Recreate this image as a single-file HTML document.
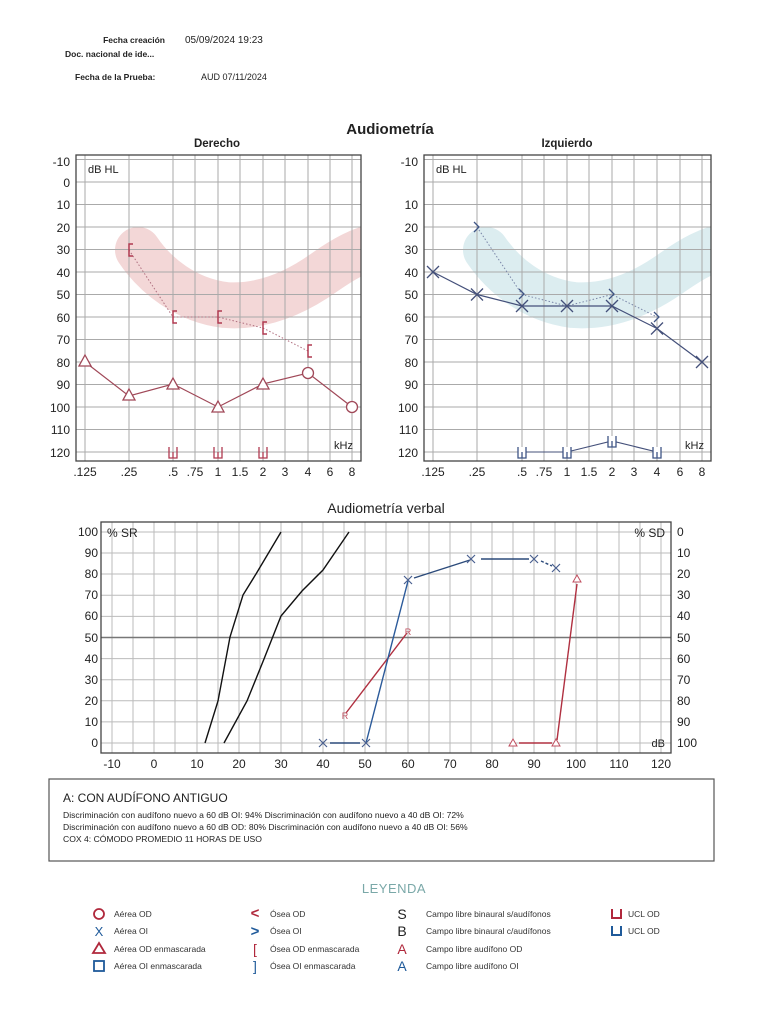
<!DOCTYPE html>
<html><head><meta charset="utf-8"><style>
body{margin:0;background:#fff;}
svg{display:block;font-family:"Liberation Sans",sans-serif;}
</style></head><body>
<svg width="773" height="1024" viewBox="0 0 773 1024" xmlns="http://www.w3.org/2000/svg">
<defs>
<clipPath id="cl"><rect x="76" y="155" width="285" height="306"/></clipPath>
<clipPath id="cr"><rect x="76" y="155" width="287" height="306"/></clipPath>
</defs>
<!-- header -->
<g font-size="9" fill="#222">
<text x="165" y="43" text-anchor="end" font-weight="bold" font-size="8.5">Fecha creación</text>
<text x="185" y="43" font-size="10">05/09/2024  19:23</text>
<text x="65" y="57" font-weight="bold" font-size="8.5">Doc. nacional de ide...</text>
<text x="75" y="80" font-weight="bold" font-size="8.5">Fecha de la Prueba:</text>
<text x="201" y="80" font-size="9">AUD 07/11/2024</text>
</g>
<text x="390" y="134" text-anchor="middle" font-size="15" font-weight="bold" fill="#222">Audiometría</text>
<text x="217" y="147" text-anchor="middle" font-size="11.5" font-weight="bold" fill="#222">Derecho</text>
<text x="567" y="147" text-anchor="middle" font-size="11.5" font-weight="bold" fill="#222">Izquierdo</text>

<!-- LEFT chart -->
<g id="left">
<path clip-path="url(#cl)" d="M138,250 C155,275 185,300 225,305 C265,308 300,290 325,272 C345,258 360,250 380,245" fill="none" stroke="#f3d7d7" stroke-width="46" stroke-linecap="round"/>
<g stroke="#aaa" stroke-width="1">
<line x1="76" x2="361" y1="159.5" y2="159.5"/><line x1="76" x2="361" y1="182" y2="182"/><line x1="76" x2="361" y1="204.5" y2="204.5"/><line x1="76" x2="361" y1="227" y2="227"/><line x1="76" x2="361" y1="249.5" y2="249.5"/><line x1="76" x2="361" y1="272" y2="272"/><line x1="76" x2="361" y1="294.5" y2="294.5"/><line x1="76" x2="361" y1="317" y2="317"/><line x1="76" x2="361" y1="339.5" y2="339.5"/><line x1="76" x2="361" y1="362" y2="362"/><line x1="76" x2="361" y1="384.5" y2="384.5"/><line x1="76" x2="361" y1="407" y2="407"/><line x1="76" x2="361" y1="429.5" y2="429.5"/><line x1="76" x2="361" y1="452" y2="452"/>
<line y1="155" y2="461" x1="85" x2="85"/><line y1="155" y2="461" x1="129" x2="129"/><line y1="155" y2="461" x1="173" x2="173"/><line y1="155" y2="461" x1="195" x2="195"/><line y1="155" y2="461" x1="218" x2="218"/><line y1="155" y2="461" x1="240" x2="240"/><line y1="155" y2="461" x1="263" x2="263"/><line y1="155" y2="461" x1="285" x2="285"/><line y1="155" y2="461" x1="308" x2="308"/><line y1="155" y2="461" x1="330" x2="330"/><line y1="155" y2="461" x1="352" x2="352"/>
</g>
<rect x="76" y="155" width="285" height="306" fill="none" stroke="#444" stroke-width="1.3"/>
<text x="88" y="173" font-size="11" fill="#222">dB HL</text>
<text x="334" y="449" font-size="11" fill="#222">kHz</text>
<polyline points="129,250 173,317 218,317 263,328 308,351" fill="none" stroke="#b07080" stroke-width="1" stroke-dasharray="1.5,2"/>
<g fill="none" stroke="#b03a50" stroke-width="1.5">
<path d="M133,244 h-4 v12 h4"/><path d="M177,311 h-4 v12 h4"/><path d="M222,311 h-4 v12 h4"/><path d="M267,322 h-4 v12 h4"/><path d="M312,345 h-4 v12 h4"/>
</g>
<polyline points="85,362 129,396 173,384 218,407 263,384 308,373 352,407" fill="none" stroke="#a04858" stroke-width="1.2"/>
<g fill="#fff" stroke="#a04858" stroke-width="1.3">
<path d="M85,355 l6,11 h-12 z"/><path d="M129,389 l6,11 h-12 z"/><path d="M173,378 l6,11 h-12 z"/><path d="M218,401 l6,11 h-12 z"/><path d="M263,378 l6,11 h-12 z"/>
<circle cx="308" cy="373" r="5.5"/><circle cx="352" cy="407" r="5.5"/>
</g>
<g fill="none" stroke="#b03a50" stroke-width="1.3">
<path d="M169,447 v11 h8 v-11 M173,452 v6"/><path d="M214,447 v11 h8 v-11 M218,452 v6"/><path d="M259,447 v11 h8 v-11 M263,452 v6"/>
</g>
<g font-size="12" fill="#222" text-anchor="end">
<text x="70" y="166">-10</text><text x="70" y="187">0</text><text x="70" y="209">10</text><text x="70" y="232">20</text><text x="70" y="254">30</text><text x="70" y="277">40</text><text x="70" y="299">50</text><text x="70" y="322">60</text><text x="70" y="344">70</text><text x="70" y="367">80</text><text x="70" y="389">90</text><text x="70" y="412">100</text><text x="70" y="434">110</text><text x="70" y="457">120</text>
</g>
<g font-size="12" fill="#222" text-anchor="middle">
<text x="85" y="476">.125</text><text x="129" y="476">.25</text><text x="173" y="476">.5</text><text x="195" y="476">.75</text><text x="218" y="476">1</text><text x="240" y="476">1.5</text><text x="263" y="476">2</text><text x="285" y="476">3</text><text x="308" y="476">4</text><text x="330" y="476">6</text><text x="352" y="476">8</text>
</g>
</g>

<!-- RIGHT chart -->
<g transform="translate(348,0)">
<path clip-path="url(#cr)" d="M138,250 C155,275 185,300 225,305 C265,308 300,290 325,272 C345,258 360,250 380,245" fill="none" stroke="#dcedf0" stroke-width="46" stroke-linecap="round"/>
<g stroke="#aaa" stroke-width="1">
<line x1="76" x2="363" y1="159.5" y2="159.5"/><line x1="76" x2="363" y1="182" y2="182"/><line x1="76" x2="363" y1="204.5" y2="204.5"/><line x1="76" x2="363" y1="227" y2="227"/><line x1="76" x2="363" y1="249.5" y2="249.5"/><line x1="76" x2="363" y1="272" y2="272"/><line x1="76" x2="363" y1="294.5" y2="294.5"/><line x1="76" x2="363" y1="317" y2="317"/><line x1="76" x2="363" y1="339.5" y2="339.5"/><line x1="76" x2="363" y1="362" y2="362"/><line x1="76" x2="363" y1="384.5" y2="384.5"/><line x1="76" x2="363" y1="407" y2="407"/><line x1="76" x2="363" y1="429.5" y2="429.5"/><line x1="76" x2="363" y1="452" y2="452"/>
<line y1="155" y2="461" x1="85" x2="85"/><line y1="155" y2="461" x1="129" x2="129"/><line y1="155" y2="461" x1="174" x2="174"/><line y1="155" y2="461" x1="196" x2="196"/><line y1="155" y2="461" x1="219" x2="219"/><line y1="155" y2="461" x1="241" x2="241"/><line y1="155" y2="461" x1="264" x2="264"/><line y1="155" y2="461" x1="286" x2="286"/><line y1="155" y2="461" x1="309" x2="309"/><line y1="155" y2="461" x1="332" x2="332"/><line y1="155" y2="461" x1="354" x2="354"/>
</g>
<rect x="76" y="155" width="287" height="306" fill="none" stroke="#444" stroke-width="1.3"/>
<text x="88" y="173" font-size="11" fill="#222">dB HL</text>
<text x="337" y="449" font-size="11" fill="#222">kHz</text>
<polyline points="129,227 174,294.5 219,306 264,294.5 309,317" fill="none" stroke="#7a86a8" stroke-width="1" stroke-dasharray="1.5,2"/>
<g fill="none" stroke="#3f5585" stroke-width="1.3">
<path d="M126,222 l5,5 l-5,5"/><path d="M171,289 l5,5 l-5,5"/><path d="M261,289 l5,5 l-5,5"/><path d="M306,312 l5,5 l-5,5"/>
</g>
<polyline points="85,272 129,294.5 174,306 219,306 264,306 309,328.5 354,362" fill="none" stroke="#44507a" stroke-width="1.2"/>
<g stroke="#44507a" stroke-width="1.3">
<path d="M79,266 l12,12 M91,266 l-12,12"/><path d="M123,288.5 l12,12 M135,288.5 l-12,12"/><path d="M168,300 l12,12 M180,300 l-12,12"/><path d="M213,300 l12,12 M225,300 l-12,12"/><path d="M258,300 l12,12 M270,300 l-12,12"/><path d="M303,322.5 l12,12 M315,322.5 l-12,12"/><path d="M348,356 l12,12 M360,356 l-12,12"/>
</g>
<polyline points="174,452 219,452 264,441 309,452" fill="none" stroke="#44507a" stroke-width="1.1"/>
<g fill="#fff" stroke="#3f5585" stroke-width="1.3">
<path d="M170,447 v11 h8 v-11 M174,452 v6"/><path d="M215,447 v11 h8 v-11 M219,452 v6"/><path d="M260,436 v11 h8 v-11 M264,441 v6"/><path d="M305,447 v11 h8 v-11 M309,452 v6"/>
</g>
<g font-size="12" fill="#222" text-anchor="end">
<text x="70" y="166">-10</text><text x="70" y="209">10</text><text x="70" y="232">20</text><text x="70" y="254">30</text><text x="70" y="277">40</text><text x="70" y="299">50</text><text x="70" y="322">60</text><text x="70" y="344">70</text><text x="70" y="367">80</text><text x="70" y="389">90</text><text x="70" y="412">100</text><text x="70" y="434">110</text><text x="70" y="457">120</text>
</g>
<g font-size="12" fill="#222" text-anchor="middle">
<text x="85" y="476">.125</text><text x="129" y="476">.25</text><text x="174" y="476">.5</text><text x="196" y="476">.75</text><text x="219" y="476">1</text><text x="241" y="476">1.5</text><text x="264" y="476">2</text><text x="286" y="476">3</text><text x="309" y="476">4</text><text x="332" y="476">6</text><text x="354" y="476">8</text>
</g>
</g>

<!-- VERBAL chart -->
<text x="386" y="513" text-anchor="middle" font-size="14" fill="#222">Audiometría verbal</text>
<g stroke="#bbb" stroke-width="1">
<line x1="112" x2="112" y1="522" y2="753"/><line x1="133" x2="133" y1="522" y2="753"/><line x1="154" x2="154" y1="522" y2="753"/><line x1="175" x2="175" y1="522" y2="753"/><line x1="197" x2="197" y1="522" y2="753"/><line x1="218" x2="218" y1="522" y2="753"/><line x1="239" x2="239" y1="522" y2="753"/><line x1="260" x2="260" y1="522" y2="753"/><line x1="281" x2="281" y1="522" y2="753"/><line x1="302" x2="302" y1="522" y2="753"/><line x1="323" x2="323" y1="522" y2="753"/><line x1="344" x2="344" y1="522" y2="753"/><line x1="365" x2="365" y1="522" y2="753"/><line x1="386" x2="386" y1="522" y2="753"/><line x1="408" x2="408" y1="522" y2="753"/><line x1="429" x2="429" y1="522" y2="753"/><line x1="450" x2="450" y1="522" y2="753"/><line x1="471" x2="471" y1="522" y2="753"/><line x1="492" x2="492" y1="522" y2="753"/><line x1="513" x2="513" y1="522" y2="753"/><line x1="534" x2="534" y1="522" y2="753"/><line x1="555" x2="555" y1="522" y2="753"/><line x1="576" x2="576" y1="522" y2="753"/><line x1="597" x2="597" y1="522" y2="753"/><line x1="619" x2="619" y1="522" y2="753"/><line x1="640" x2="640" y1="522" y2="753"/><line x1="661" x2="661" y1="522" y2="753"/>
<line x1="101" x2="671" y1="532" y2="532"/><line x1="101" x2="671" y1="553" y2="553"/><line x1="101" x2="671" y1="574" y2="574"/><line x1="101" x2="671" y1="595.3" y2="595.3"/><line x1="101" x2="671" y1="616.4" y2="616.4"/><line x1="101" x2="671" y1="658.6" y2="658.6"/><line x1="101" x2="671" y1="679.7" y2="679.7"/><line x1="101" x2="671" y1="700.8" y2="700.8"/><line x1="101" x2="671" y1="721.9" y2="721.9"/><line x1="101" x2="671" y1="743" y2="743"/>
</g>
<line x1="101" x2="671" y1="637.5" y2="637.5" stroke="#777" stroke-width="1.4"/>
<rect x="101" y="522" width="570" height="231" fill="none" stroke="#444" stroke-width="1.3"/>
<text x="107" y="537" font-size="12" fill="#222">% SR</text>
<text x="665" y="537" font-size="12" fill="#222" text-anchor="end">% SD</text>
<text x="665" y="747" font-size="11" fill="#222" text-anchor="end">dB</text>
<g fill="none" stroke="#111" stroke-width="1.4">
<polyline points="205,743 218,701 230,637 243,595 256,574 281,532"/>
<polyline points="224,743 247,701 264,659 281,616 302,591 323,570 349,532"/>
</g>
<line x1="346" y1="713" x2="407" y2="633" stroke="#b03040" stroke-width="1.4"/>
<g font-size="9"><text x="345" y="719" text-anchor="middle" fill="#c05060">R</text><text x="408" y="635" text-anchor="middle" fill="#c05060">R</text></g>
<line x1="330" y1="743" x2="360" y2="743" stroke="#2b4a7a" stroke-width="1.4"/>
<polyline points="366,743 408,581" fill="none" stroke="#2b5a9a" stroke-width="1.4"/>
<polyline points="414,578 470,560" fill="none" stroke="#2b4a7a" stroke-width="1.4"/>
<line x1="481" y1="559" x2="529" y2="559" stroke="#2b4a7a" stroke-width="1.4"/>
<line x1="541" y1="561" x2="552" y2="566" stroke="#2b4a7a" stroke-width="1.4" stroke-dasharray="3,2"/>
<g stroke="#4a6090" stroke-width="1.2">
<path d="M319,739 l8,8 M327,739 l-8,8"/><path d="M362,739 l8,8 M370,739 l-8,8"/><path d="M404,576 l8,8 M412,576 l-8,8"/><path d="M467,555 l8,8 M475,555 l-8,8"/><path d="M530,555 l8,8 M538,555 l-8,8"/><path d="M552,564 l8,8 M560,564 l-8,8"/>
</g>
<line x1="519" y1="743" x2="552" y2="743" stroke="#b03040" stroke-width="1.4"/>
<line x1="557" y1="740" x2="577" y2="584" stroke="#b03040" stroke-width="1.4"/>
<g fill="#fff" stroke="#c05060" stroke-width="1">
<path d="M513,739 l4,7 h-8 z"/><path d="M556,739 l4,7 h-8 z"/><path d="M577,575 l4,7 h-8 z"/>
</g>
<g font-size="12" fill="#222" text-anchor="end">
<text x="98" y="536">100</text><text x="98" y="557">90</text><text x="98" y="578">80</text><text x="98" y="599">70</text><text x="98" y="620">60</text><text x="98" y="642">50</text><text x="98" y="663">40</text><text x="98" y="684">30</text><text x="98" y="705">20</text><text x="98" y="726">10</text><text x="98" y="747">0</text>
</g>
<g font-size="12" fill="#222">
<text x="677" y="536">0</text><text x="677" y="557">10</text><text x="677" y="578">20</text><text x="677" y="599">30</text><text x="677" y="620">40</text><text x="677" y="642">50</text><text x="677" y="663">60</text><text x="677" y="684">70</text><text x="677" y="705">80</text><text x="677" y="726">90</text><text x="677" y="747">100</text>
</g>
<g font-size="12" fill="#222" text-anchor="middle">
<text x="112" y="768">-10</text><text x="154" y="768">0</text><text x="197" y="768">10</text><text x="239" y="768">20</text><text x="281" y="768">30</text><text x="323" y="768">40</text><text x="365" y="768">50</text><text x="408" y="768">60</text><text x="450" y="768">70</text><text x="492" y="768">80</text><text x="534" y="768">90</text><text x="576" y="768">100</text><text x="619" y="768">110</text><text x="661" y="768">120</text>
</g>

<!-- notes box -->
<rect x="49" y="779" width="665" height="82" fill="none" stroke="#555" stroke-width="1.2"/>
<text x="63" y="802" font-size="12" fill="#222">A: CON AUDÍFONO ANTIGUO</text>
<g font-size="8.6" fill="#222">
<text x="63" y="818">Discriminación con audífono nuevo a 60 dB OI: 94% Discriminación con audífono nuevo a 40 dB OI: 72%</text>
<text x="63" y="830">Discriminación con audífono nuevo a 60 dB OD: 80% Discriminación con audífono nuevo a 40 dB OI: 56%</text>
<text x="63" y="842">COX 4: CÓMODO    PROMEDIO 11 HORAS DE USO</text>
</g>

<!-- legend -->
<text x="394" y="893" text-anchor="middle" font-size="13" fill="#7aa8a8" letter-spacing="0.5">LEYENDA</text>
<g font-size="8.5" fill="#333">
<text x="114" y="917">Aérea OD</text><text x="114" y="934">Aérea OI</text><text x="114" y="952">Aérea OD enmascarada</text><text x="114" y="969">Aérea OI enmascarada</text>
<text x="270" y="917">Ósea OD</text><text x="270" y="934">Ósea OI</text><text x="270" y="952">Ósea OD enmascarada</text><text x="270" y="969">Ósea OI enmascarada</text>
<text x="426" y="917">Campo libre binaural s/audífonos</text><text x="426" y="934">Campo libre binaural c/audífonos</text><text x="426" y="952">Campo libre audífono OD</text><text x="426" y="969">Campo libre audífono OI</text>
<text x="628" y="917">UCL OD</text><text x="628" y="934">UCL OD</text>
</g>
<circle cx="99" cy="914" r="5" fill="none" stroke="#b0283c" stroke-width="1.8"/>
<text x="99" y="936" text-anchor="middle" font-size="13" fill="#1f5a9a">X</text>
<path d="M99,943 l6,10 h-12 z" fill="none" stroke="#b0283c" stroke-width="1.8"/>
<rect x="94" y="961" width="10" height="10" fill="none" stroke="#1f5a9a" stroke-width="1.8"/>
<text x="255" y="918" text-anchor="middle" font-size="15" font-weight="bold" fill="#b0283c">&lt;</text>
<text x="255" y="936" text-anchor="middle" font-size="15" font-weight="bold" fill="#1f5a9a">&gt;</text>
<text x="255" y="954" text-anchor="middle" font-size="14" fill="#b0283c">[</text>
<text x="255" y="971" text-anchor="middle" font-size="14" fill="#1f5a9a">]</text>
<text x="402" y="919" text-anchor="middle" font-size="14" fill="#222">S</text>
<text x="402" y="936" text-anchor="middle" font-size="14" fill="#222">B</text>
<text x="402" y="954" text-anchor="middle" font-size="14" fill="#b0283c">A</text>
<text x="402" y="971" text-anchor="middle" font-size="14" fill="#1f5a9a">A</text>
<path d="M612,909 v9 h9 v-9" fill="none" stroke="#b0283c" stroke-width="2"/>
<path d="M612,926 v9 h9 v-9" fill="none" stroke="#1f5a9a" stroke-width="2"/>
</svg>
</body></html>
